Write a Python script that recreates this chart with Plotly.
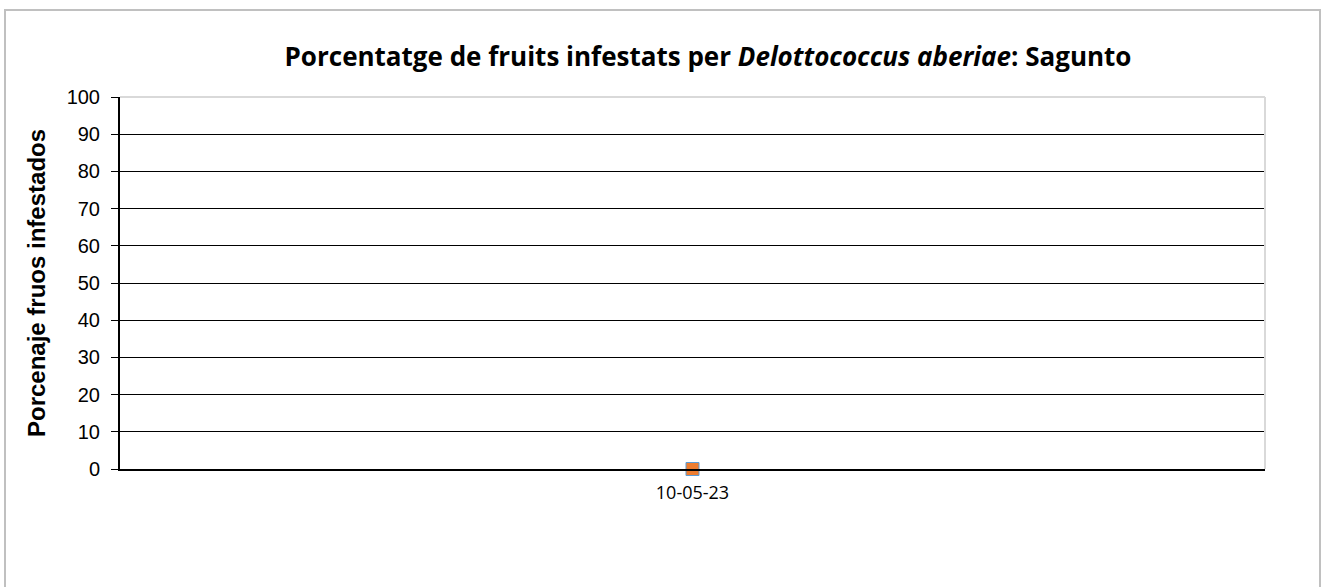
import plotly.graph_objects as go

dates = ["10-05-23"]
serie_a = [0]
serie_b = [0]
y_ticks = [0, 10, 20, 30, 40, 50, 60, 70, 80, 90, 100]

W, H = 1322, 587
L, R, T, B = 120, 57, 97, 118
pw, ph = W - L - R, H - T - B

fig = go.Figure()
fig.add_trace(go.Scatter(x=dates, y=serie_a, mode="markers", name="A",
                         marker=dict(symbol="square", size=13, color="#5B9BD5",
                                     line=dict(width=0)),
                         cliponaxis=False, showlegend=False, hoverinfo="skip"))
fig.add_trace(go.Scatter(x=dates, y=serie_b, mode="markers", name="B",
                         marker=dict(symbol="square", size=13, color="#ED7D31",
                                     line=dict(width=1, color="#5B9BD5")),
                         cliponaxis=False, showlegend=False))

def px_x(v):
    return (v - L) / pw

def px_y(v):
    return (H - B - v) / ph

shapes = [
    dict(type="rect", xref="paper", yref="paper",
         x0=px_x(5), x1=px_x(1320), y0=px_y(600), y1=px_y(10),
         line=dict(color="#c0c0c0", width=2), layer="below"),
    dict(type="line", xref="paper", yref="paper", x0=0, x1=1, y0=1, y1=1,
         line=dict(color="#d9d9d9", width=2)),
    dict(type="line", xref="paper", yref="paper", x0=1, x1=1, y0=0, y1=1,
         line=dict(color="#d9d9d9", width=2)),
]

fig.update_layout(
    width=W, height=H,
    margin=dict(l=L, r=R, t=T, b=B),
    paper_bgcolor="white", plot_bgcolor="white",
    title=dict(text="Porcentatge de fruits infestats per <i>Delottococcus aberiae</i>: Sagunto",
               x=708 / W, xanchor="center", y=1 - 57 / H, yanchor="middle",
               font=dict(family="Open Sans", size=26, color="black", weight="bold")),
    shapes=shapes,
    xaxis=dict(type="category", showgrid=False, showline=True, linecolor="black",
               linewidth=2, ticks="", tickfont=dict(family="Open Sans", size=18, color="black"),
               ticklabelstandoff=6, fixedrange=True),
    yaxis=dict(range=[0, 100], tickvals=y_ticks, showgrid=True, gridcolor="black",
               gridwidth=1, showline=True, linecolor="black", linewidth=2,
               ticks="outside", ticklen=7, tickcolor="black", tickwidth=1,
               tickfont=dict(family="Liberation Sans", size=20, color="black"),
               ticklabelstandoff=7, zeroline=False,
               title=dict(text="Porcenaje fruos infestados", standoff=14,
                          font=dict(family="Liberation Sans", size=24, color="black",
                                    weight="bold"))),
)

fig.write_html("out.html", post_script="document.body.style.margin='0';",
               config={"displayModeBar": False})
